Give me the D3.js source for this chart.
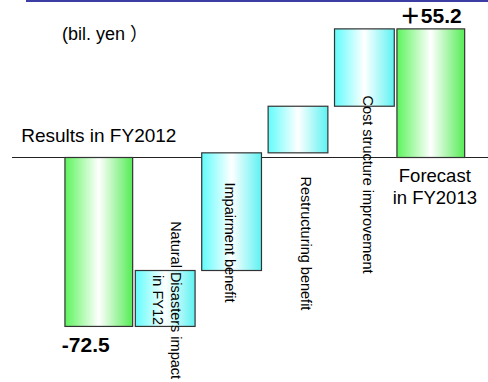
<!DOCTYPE html>
<html><head><meta charset="utf-8">
<script src="https://cdn.jsdelivr.net/npm/d3@7"></script>
<style>body{margin:0;background:#fff;} svg{display:block;}</style>
</head><body>
<script>
// ---- data ----
const categories = ["Results in FY2012", "Natural Disasters impact in FY12", "Impairment benefit",
                    "Restructuring benefit", "Cost structure improvement", "Forecast in FY2013"];
const barTypes = ["total", "delta", "delta", "delta", "delta", "total"];
const values = [-72.5, 24.0, 50.5, 20.0, 33.2, 55.2];
const valueLabels = ["-72.5", "", "", "", "", "＋55.2"];
const categoryLines = [["Results in FY2012"], ["Natural Disasters impact", "in FY12"], ["Impairment benefit"],
                       ["Restructuring benefit"], ["Cost structure improvement"], ["Forecast", "in FY2013"]];
const unitLabel = "(bil. yen ）";

// ---- layout ----
const W = 488, H = 382;
const FONT = "'Liberation Sans', Arial, 'Noto Sans CJK JP', sans-serif";
const svg = d3.select("body").append("svg").attr("width", W).attr("height", H);

const x = d3.scaleBand().domain(categories).range([65.6, 464]).padding(0);
const y = d3.scaleLinear().domain([-80, 60]).range([343.9, 17.7]);

// waterfall levels
let run = 0;
const bars = categories.map((c, i) => {
  let s, e;
  if (barTypes[i] === "total") { s = 0; e = values[i]; run = values[i]; }
  else { s = run; e = run + values[i]; run = e; }
  return { cat: c, i, type: barTypes[i], s, e, lines: categoryLines[i], label: valueLabels[i] };
});

const defs = svg.append("defs");
function grad(id, c0, c1) {
  const g = defs.append("linearGradient").attr("id", id).attr("x1", 0).attr("x2", 1).attr("y1", 0).attr("y2", 0);
  g.append("stop").attr("offset", "0%").attr("stop-color", c0);
  g.append("stop").attr("offset", "50%").attr("stop-color", "#ffffff");
  g.append("stop").attr("offset", "100%").attr("stop-color", c1);
}
grad("gGreen", "#5cf45c", "#55ec55");
grad("gCyan", "#62fcfc", "#5ef2f2");

// top rule
svg.append("rect").attr("x", 26).attr("y", 0).attr("width", W - 26).attr("height", 2).attr("fill", "#3d3da6");

// zero line
svg.append("line").attr("x1", 12).attr("x2", W).attr("y1", y(0)).attr("y2", y(0))
  .attr("stroke", "#222").attr("stroke-width", 1.2);

// bars
const bw = d => x.bandwidth() * (d.type === "total" ? 1.02 : 0.9);
svg.selectAll("rect.bar").data(bars).join("rect").attr("class", "bar")
  .attr("x", d => x(d.cat) + (x.bandwidth() - bw(d)) / 2)
  .attr("width", bw)
  .attr("y", d => y(Math.max(d.s, d.e)))
  .attr("height", d => Math.abs(y(d.s) - y(d.e)))
  .attr("fill", d => d.type === "total" ? "url(#gGreen)" : "url(#gCyan)")
  .attr("stroke", "#333").attr("stroke-width", 1.2);

const cx = d => x(d.cat) + x.bandwidth() / 2;

// unit label
svg.append("text").attr("x", 62).attr("y", 40).attr("font-family", FONT).attr("font-size", 18)
  .text(unitLabel);

// totals: category labels and value labels
const first = bars[0], last = bars[5];
svg.append("text").attr("x", cx(first)).attr("y", y(0) - 15.5).attr("text-anchor", "middle")
  .attr("font-family", FONT).attr("font-size", 19).text(first.lines[0]);
svg.append("text").attr("x", cx(first) - 13).attr("y", y(first.e) + 26).attr("text-anchor", "middle")
  .attr("font-family", FONT).attr("font-size", 21).attr("font-weight", "bold").text(first.label);
svg.append("text").attr("x", cx(last)).attr("y", y(last.e) - 6).attr("text-anchor", "middle")
  .attr("font-family", FONT).attr("font-size", 21).attr("font-weight", "bold").text(last.label);
last.lines.forEach((t, k) => {
  svg.append("text").attr("x", cx(last) + 4).attr("y", y(0) + 24.5 + k * 22).attr("text-anchor", "middle")
    .attr("font-family", FONT).attr("font-size", 18.5).text(t);
});

// rotated labels for the delta bars (center value in chart units, x offset from bar center)
const rotPlace = { 1: { v: -61.2, dx: 5.5 }, 2: { v: -36.5, dx: -6.5 }, 3: { v: -36.9, dx: 3 }, 4: { v: -11.6, dx: -1 } };
bars.filter(d => d.type === "delta").forEach(d => {
  const p = rotPlace[d.i];
  d.lines.forEach((t, k) => {
    svg.append("text")
      .attr("transform", `translate(${cx(d) + p.dx - k * 18},${y(p.v)}) rotate(90)`)
      .attr("text-anchor", "middle").attr("font-family", FONT).attr("font-size", 14.5).text(t);
  });
});
</script>
</body></html>
